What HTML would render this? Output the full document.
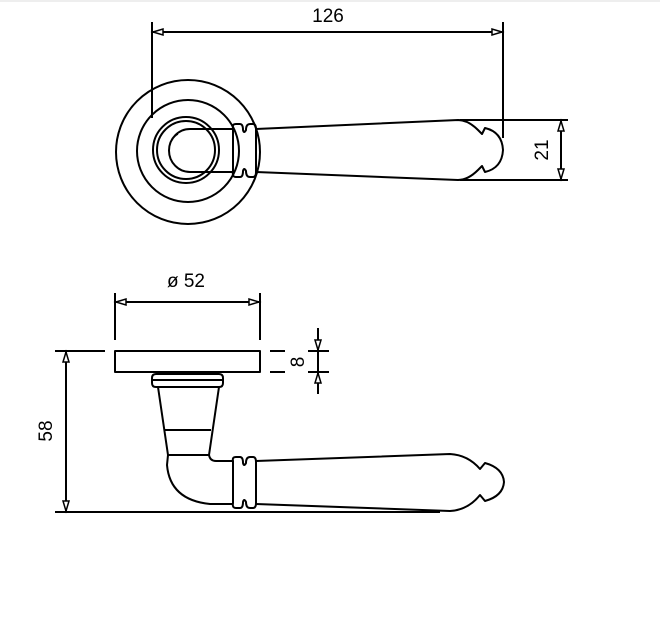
<!DOCTYPE html>
<html><head><meta charset="utf-8"><style>
html,body{margin:0;padding:0;background:#fff;}
svg{display:block;}
text{font-family:"Liberation Sans",Arial,sans-serif;fill:#000;}
</style></head><body>
<svg width="660" height="632" viewBox="0 0 660 632" xmlns="http://www.w3.org/2000/svg">
<line x1="0" y1="1" x2="660" y2="1" stroke="#ddd" stroke-width="1"/>
<g fill="none" stroke="#000" stroke-width="2" stroke-linejoin="round">
<!-- TOP VIEW -->
<circle cx="188" cy="152" r="72"/>
<circle cx="188" cy="151" r="51"/>
<circle cx="186" cy="150" r="33"/>
<circle cx="186" cy="150" r="29"/>
<path d="M233 129 L190 129 A21 21.5 0 0 0 190 172 L233 172"/>
<path d="M172 140 A14 14 0 0 1 178 134" stroke-width="1.5"/>
<!-- collar top -->
<path d="M233 128 Q232 124 236 124 L240 124 Q243 124 243 130 Q244 134 246 130 Q246 124 250 124 L253 124 Q256 124 256 129 L256 172 Q256 177 253 177 L250 177 Q246 177 246 171 Q244 167 243 171 Q243 177 240 177 L236 177 Q232 177 233 172 Z"/>
<path d="M256 129 L458 120 Q468 120 478 130 L482 134 L485 128 Q502 132 503 150 Q502 168 485 172 L482 166 L478 170 Q468 180 458 180 L256 172"/>
<!-- dims 126 -->
<line x1="152" y1="22" x2="152" y2="118"/>
<line x1="503" y1="22" x2="503" y2="138"/>
<line x1="152" y1="32" x2="503" y2="32"/>
<line x1="460" y1="120" x2="568" y2="120"/>
<line x1="460" y1="180" x2="568" y2="180"/>
<line x1="561" y1="120" x2="561" y2="180"/>
<!-- SIDE VIEW -->
<rect x="115" y="351" width="145" height="21"/>
<path d="M156 374 L219 374 Q223 374 223 378 L223 383 Q223 387 219 387 L156 387 Q152 387 152 383 L152 378 Q152 374 156 374 Z"/>
<line x1="153" y1="380" x2="222" y2="380"/>
<path d="M158 387 L168 455 L167 465 Q170 500 210 504 L233 504"/>
<path d="M219 387 L209 455 Q210 461 216 461 L233 461"/>
<line x1="164" y1="430" x2="211" y2="430"/>
<line x1="168" y1="455" x2="209" y2="455"/>
<path d="M233 461 Q232 457 236 457 L240 457 Q243 457 243 463 Q244 467 246 463 Q246 457 250 457 L253 457 Q256 457 256 462 L256 503 Q256 508 253 508 L250 508 Q246 508 246 502 Q244 498 243 502 Q243 508 240 508 L236 508 Q232 508 233 503 Z"/>
<path d="M256 461 L450 454 Q468 455 480 469 L485 463 Q503 468 504 482 Q503 496 485 501 L480 495 Q468 510 450 511 L256 504"/>
<!-- dims side -->
<line x1="115" y1="293" x2="115" y2="340"/>
<line x1="260" y1="293" x2="260" y2="340"/>
<line x1="115" y1="302" x2="260" y2="302"/>
<line x1="55" y1="351" x2="105" y2="351"/>
<line x1="66" y1="351" x2="66" y2="512"/>
<line x1="55" y1="512" x2="440" y2="512"/>
<line x1="270" y1="351" x2="285" y2="351"/>
<line x1="270" y1="372" x2="285" y2="372"/>
<line x1="308" y1="351" x2="329" y2="351"/>
<line x1="308" y1="372" x2="329" y2="372"/>
<line x1="318" y1="328" x2="318" y2="394"/>
</g>
<g fill="#fff" stroke="#000" stroke-width="1.5">
<polygon points="153,32 163,29 163,35"/>
<polygon points="502,32 492,29 492,35"/>
<polygon points="561,121 558,131 564,131"/>
<polygon points="561,179 558,169 564,169"/>
<polygon points="116,302 126,299 126,305"/>
<polygon points="259,302 249,299 249,305"/>
<polygon points="66,352 63,362 69,362"/>
<polygon points="66,511 63,501 69,501"/>
<polygon points="318,350 315,340 321,340"/>
<polygon points="318,373 315,383 321,383"/>
</g>
<text x="328" y="22" font-size="19" text-anchor="middle">126</text>
<text x="186" y="287" font-size="19" text-anchor="middle">ø 52</text>
<text transform="translate(548,150) rotate(-90)" font-size="19" text-anchor="middle">21</text>
<text transform="translate(304,362) rotate(-90)" font-size="19" text-anchor="middle">8</text>
<text transform="translate(52,431) rotate(-90)" font-size="19" text-anchor="middle">58</text>
</svg>
</body></html>
